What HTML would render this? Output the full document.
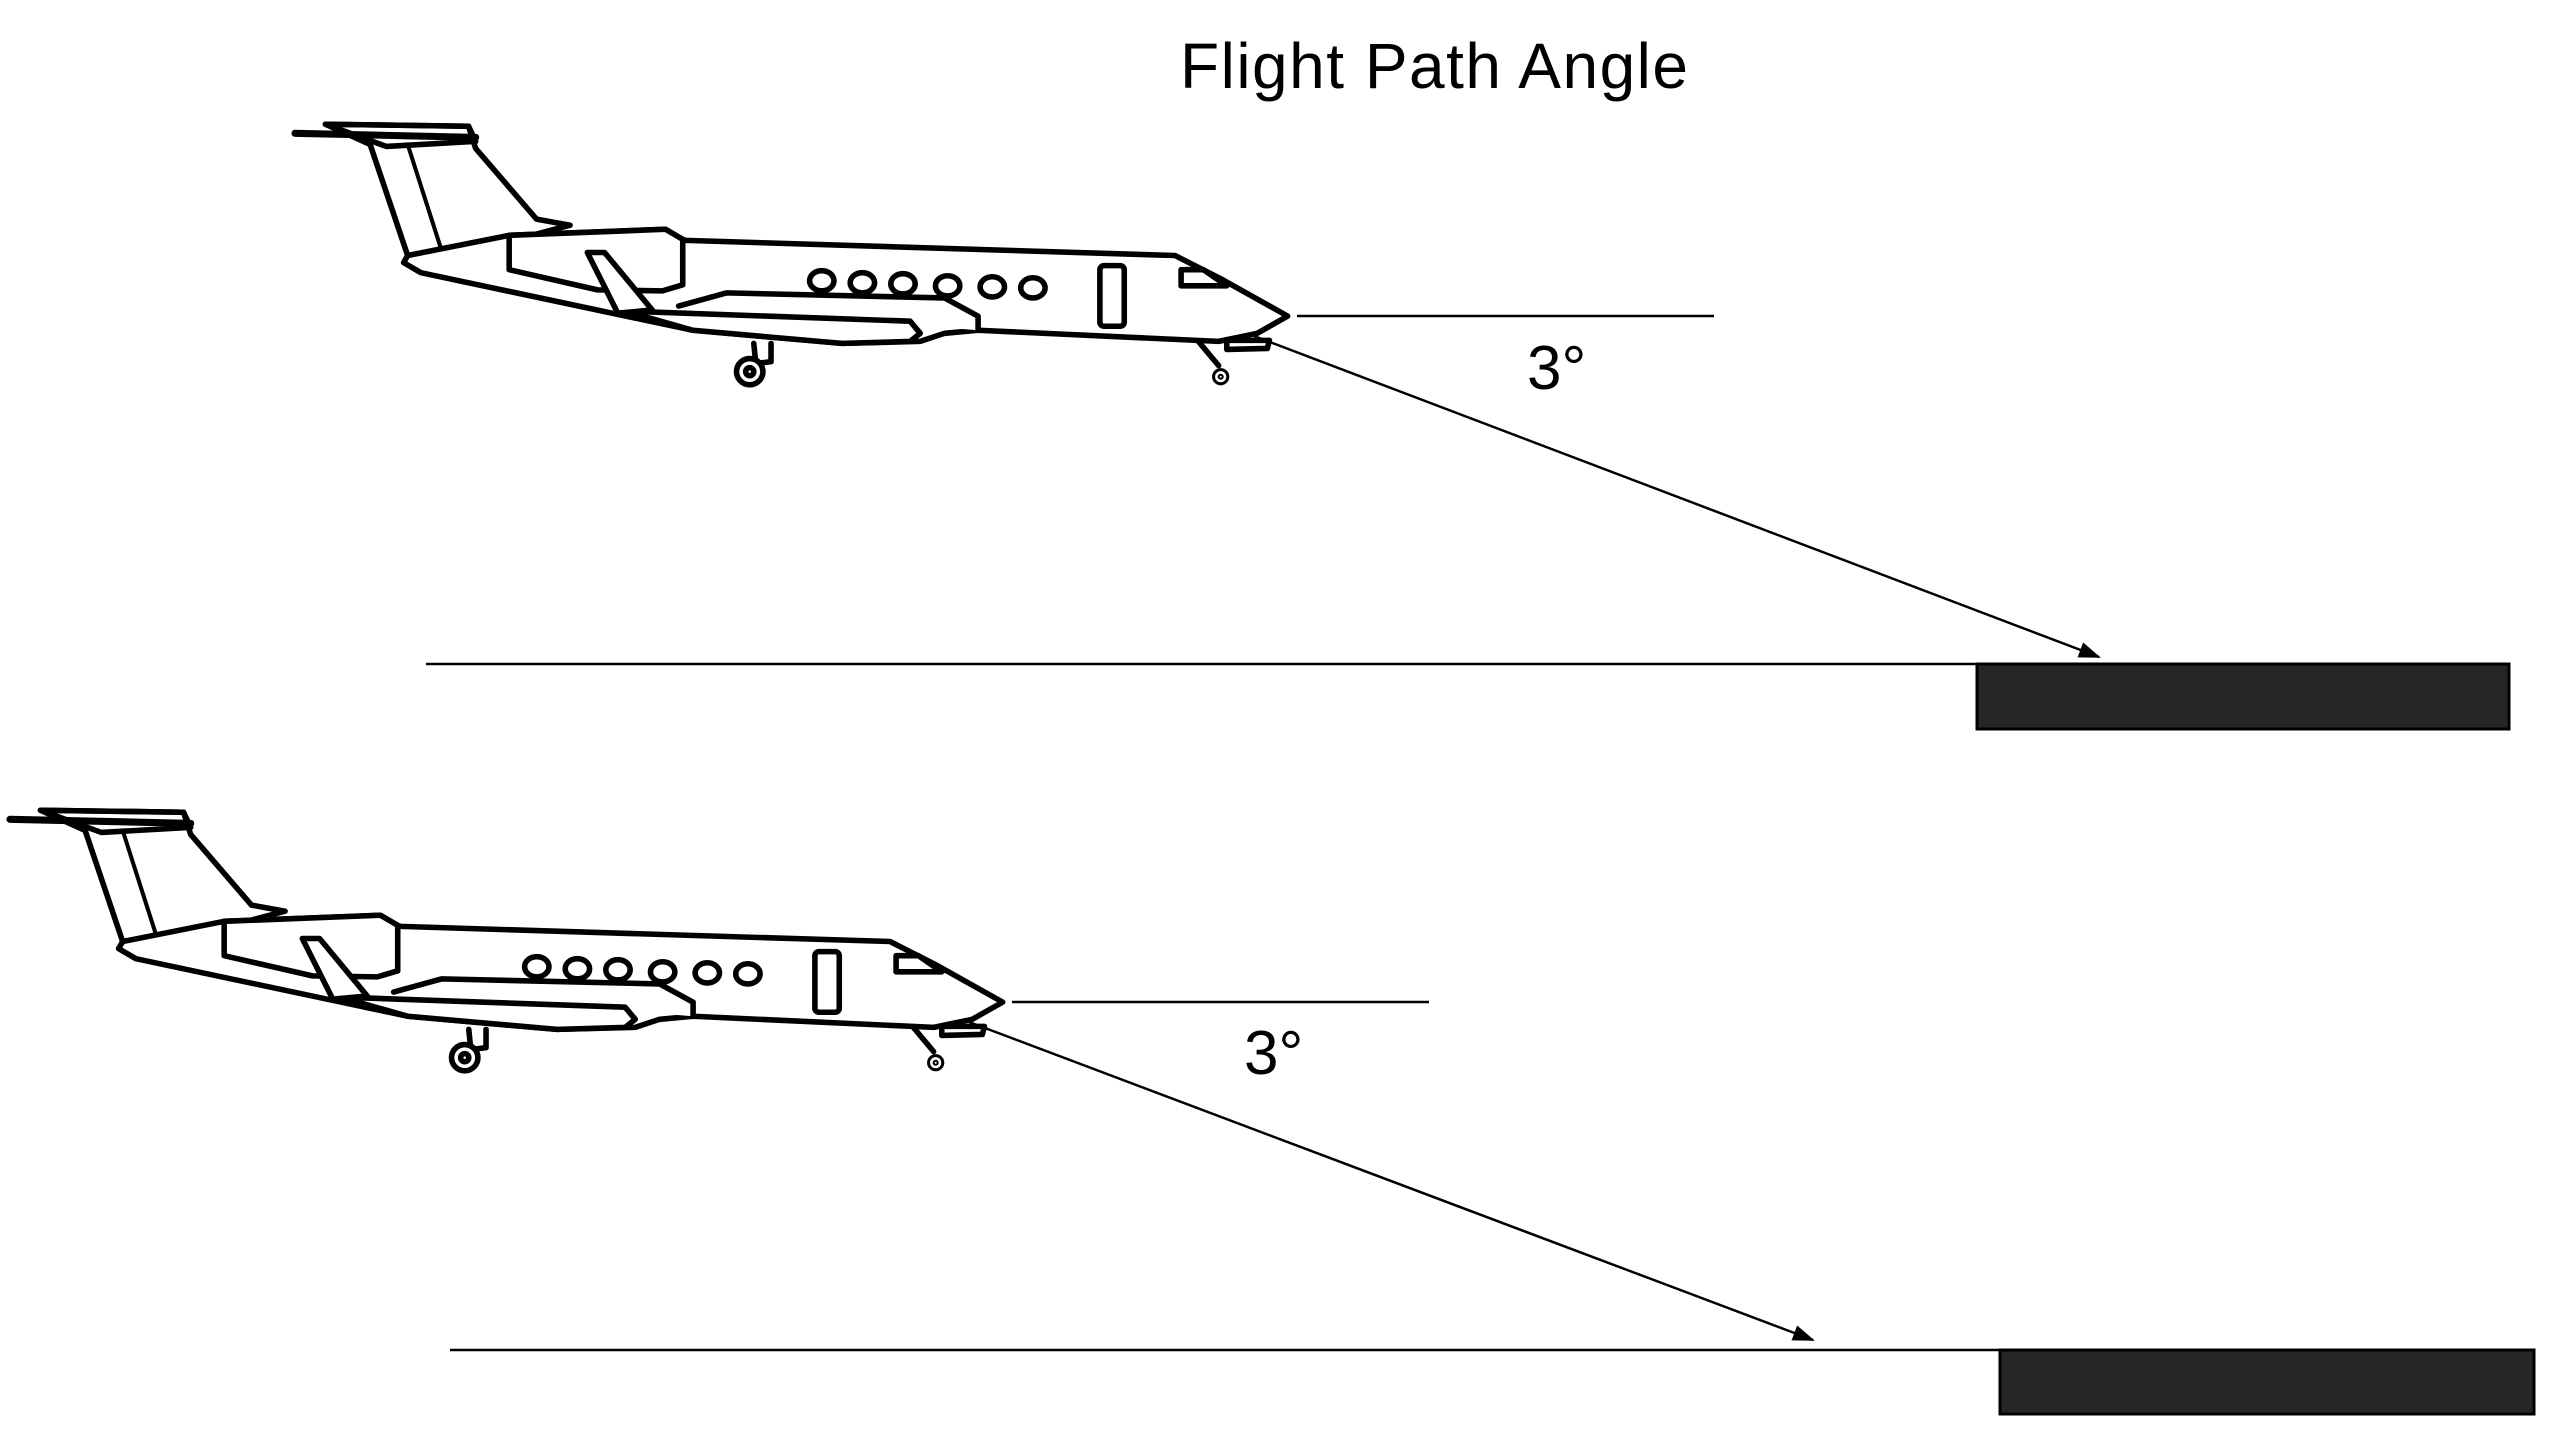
<!DOCTYPE html>
<html><head><meta charset="utf-8"><style>
html,body{margin:0;padding:0;background:#fff;}
svg{display:block;}
</style></head><body>
<svg width="2558" height="1441" viewBox="0 0 2558 1441" xmlns="http://www.w3.org/2000/svg">
<defs>
<marker id="ah" markerWidth="22" markerHeight="16" refX="20" refY="8" orient="auto" markerUnits="userSpaceOnUse" viewBox="0 0 22 16">
<path d="M0,0 L22,8 L0,16 Z" fill="#000"/></marker>
<g id="plane0" fill="#fff" stroke="#000" stroke-width="5.5" stroke-linejoin="round" stroke-linecap="round">
  <path d="M364,143 L401,253 L414,262 L561,223 L528,217 L468,147 L461,125 L320,123 Z"/>
  <path d="M290,132 L468,136" stroke-width="7"/>
  <path d="M320,123 L461,125 L468,140 L380,145 Z" fill="none"/>
  <line x1="401" y1="143" x2="436" y2="253" stroke-width="4"/>
  <path d="M401,253 L501,233 L655,227 L672,237 L675,238 L1157,253 L1204,277 L1268,313 L1238,330 L1200,338 L963,327 L930,330 L906,338 L829,340 L682,327 L414,270 L397,260 Z"/>
  <path d="M501,233 L655,227 L672,237 L672,282 L652,288 L588,287 L501,267 Z"/>
  <path d="M668,303 L715,290 L930,295 L963,313 L963,327"/>
  <path d="M615,308 L896,318 L906,330 L896,338 L829,340 L682,327 Z"/>
  <path d="M578,250 L595,250 L642,307 L608,310 Z"/>
  <ellipse cx="809" cy="278" rx="12" ry="10"/>
  <ellipse cx="849" cy="280" rx="12" ry="10"/>
  <ellipse cx="889" cy="281" rx="12" ry="10"/>
  <ellipse cx="933" cy="283" rx="12" ry="10"/>
  <ellipse cx="977" cy="284" rx="12" ry="10"/>
  <ellipse cx="1017" cy="285" rx="12" ry="10"/>
  <rect x="1083" y="263" width="24" height="60" rx="4"/>
  <path d="M1163,267 L1185,267 L1208,283 L1163,283 Z"/>
  <path d="M742,340 L744,360 L759,358 L759,340" fill="none"/>
  <ellipse cx="738" cy="368" rx="13" ry="13"/>
  <circle cx="738" cy="368" r="4" fill="#fff"/>
  <path d="M1180,338 L1200,362" fill="none"/>
  <path d="M1208,337 L1250,337 L1248,345 L1208,346 Z"/>
  <circle cx="1202" cy="373" r="7" stroke-width="3"/>
  <circle cx="1202" cy="373" r="2" stroke-width="2"/>
</g>
<g id="plane"><use href="#plane0" transform="translate(295,0) scale(1.015,1.01) translate(-290,0)"/></g>
</defs>

<text x="1434" y="88" font-family="Liberation Sans, Arial, sans-serif" font-size="64" text-anchor="middle" textLength="508">Flight Path Angle</text>

<use href="#plane"/>
<line x1="1297" y1="316" x2="1714" y2="316" stroke="#000" stroke-width="2.5"/>
<text x="1527" y="389" font-family="Liberation Sans, Arial, sans-serif" font-size="62">3°</text>
<line x1="1254" y1="336" x2="2099" y2="657" stroke="#000" stroke-width="2.5" marker-end="url(#ah)"/>
<line x1="426" y1="664" x2="1977" y2="664" stroke="#000" stroke-width="2.5"/>
<rect x="1977" y="664" width="532" height="65" fill="#262626" stroke="#000" stroke-width="3"/>

<use href="#plane" transform="translate(-285,686)"/>
<line x1="1012" y1="1002" x2="1429" y2="1002" stroke="#000" stroke-width="2.5"/>
<text x="1244" y="1074" font-family="Liberation Sans, Arial, sans-serif" font-size="62">3°</text>
<line x1="969" y1="1022" x2="1813" y2="1340" stroke="#000" stroke-width="2.5" marker-end="url(#ah)"/>
<line x1="450" y1="1350" x2="2000" y2="1350" stroke="#000" stroke-width="2.5"/>
<rect x="2000" y="1350" width="534" height="64" fill="#262626" stroke="#000" stroke-width="3"/>
</svg>
</body></html>
